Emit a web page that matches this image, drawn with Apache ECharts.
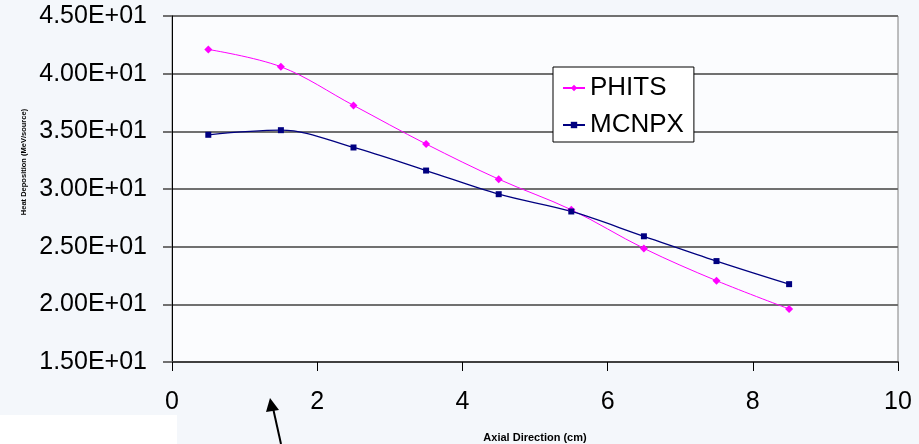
<!DOCTYPE html>
<html>
<head>
<meta charset="utf-8">
<script src="https://cdn.jsdelivr.net/npm/echarts@6/dist/echarts.min.js"></script>
<style>
html,body{margin:0;padding:0;background:#f4f7fb;}
#c{width:919px;height:444px;}
</style>
</head>
<body>
<div id="c"></div>
<script>
const xPositions = [0.5, 1.5, 2.5, 3.5, 4.5, 5.5, 6.5, 7.5, 8.5];
const phits = [42.1, 40.6, 37.25, 33.9, 30.85, 28.2, 24.85, 22.05, 19.6];
const mcnpx = [34.7, 35.1, 33.6, 31.6, 29.55, 28.05, 25.9, 23.75, 21.75];
const yTickLabels = {15:'1.50E+01',20:'2.00E+01',25:'2.50E+01',30:'3.00E+01',35:'3.50E+01',40:'4.00E+01',45:'4.50E+01'};
const seriesNames = ['PHITS', 'MCNPX'];

const chart = echarts.init(document.getElementById('c'), null, {renderer:'canvas'});
const font = '"Liberation Sans", Arial, sans-serif';
chart.setOption({
  backgroundColor: '#f4f7fb',
  animation: false,
  grid: {left:172, right:21, top:16, bottom:82, show:true, outerBoundsMode:'none', containLabel:false,
         backgroundColor:'#fbfcfe', borderColor:'#808080', borderWidth:1},
  xAxis: {
    type:'value', min:0, max:10, interval:2,
    name:'Axial Direction (cm)', nameLocation:'middle', nameGap:70,
    nameTextStyle:{fontFamily:font, fontSize:11, fontWeight:'bold', color:'#000'},
    axisLine:{show:true, onZero:false, lineStyle:{color:'#404040', width:2}},
    axisTick:{show:true, length:9, lineStyle:{color:'#000', width:1}},
    axisLabel:{fontFamily:font, fontSize:25, color:'#000', margin:28},
    splitLine:{show:false}
  },
  yAxis: {
    type:'value', min:15, max:45, interval:5,
    name:'Heat Deposition (MeV/source)', nameLocation:'middle', nameGap:143, nameRotate:90,
    nameTextStyle:{fontFamily:font, fontSize:7.5, fontWeight:'bold', color:'#000', padding:[0,0,0,54]},
    axisLine:{show:true, lineStyle:{color:'#000', width:1}},
    axisTick:{show:true, length:9, lineStyle:{color:'#707070', width:2}},
    axisLabel:{fontFamily:font, fontSize:25, color:'#000', margin:25, formatter:v=>yTickLabels[v]},
    splitLine:{show:true, lineStyle:{color:'#707070', width:2}}
  },
  legend: {
    orient:'vertical', left:553, top:67,
    backgroundColor:'#ffffff', borderColor:'#000', borderWidth:1,
    padding:[8,10,4,9], itemGap:11, itemWidth:22, itemHeight:8,
    textStyle:{fontFamily:font, fontSize:26, color:'#000'},
    data: seriesNames
  },
  series: [
    {name:seriesNames[0], type:'line', data:xPositions.map((x,i)=>[x, phits[i]]), smooth:0.35,
     color:'#ff00ff', lineStyle:{width:1, color:'#ff00ff'}, symbol:'diamond', symbolSize:8,
     itemStyle:{color:'#ff00ff'}},
    {name:seriesNames[1], type:'line', data:xPositions.map((x,i)=>[x, mcnpx[i]]), smooth:0.35,
     color:'#000080', lineStyle:{width:1.3, color:'#000080'}, symbol:'rect', symbolSize:6,
     itemStyle:{color:'#000080'}}
  ],
  graphic: [
    {type:'rect', shape:{x:0, y:415, width:177, height:29}, style:{fill:'#ffffff'}, silent:true},
    {type:'line', shape:{x1:281, y1:444, x2:273, y2:408}, style:{stroke:'#000', lineWidth:2}, silent:true},
    {type:'polygon', shape:{points:[[270,398],[266,412],[279,410]]}, style:{fill:'#000'}, silent:true}
  ]
});
</script>
</body>
</html>
